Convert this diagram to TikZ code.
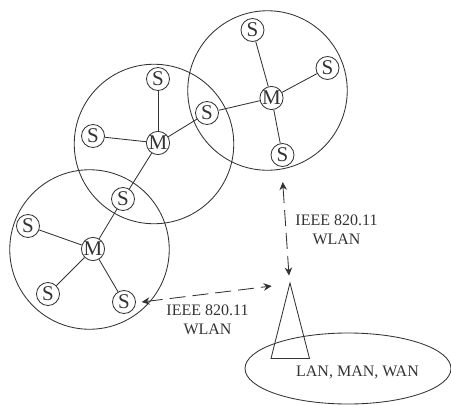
\documentclass[tikz,border=0pt]{standalone}
\usepackage{fontspec}
\setmainfont{Liberation Serif}
\usetikzlibrary{arrows.meta,shapes.geometric}
\definecolor{ink}{gray}{0.2}
\tikzset{
  px/.style={x=1pt,y=-1pt},
  ln/.style={draw=ink,line width=0.85pt},
  cell/.style={circle,ln,minimum size=159.5pt,inner sep=0pt},
  stn/.style={circle,ln,minimum size=23pt,inner sep=0pt,font=\fontsize{21}{21}\selectfont,text=ink},
  lab/.style={align=center,inner sep=0pt,font=\fontsize{16}{19}\selectfont,text=ink},
  wl/.style={ln,dash pattern=on 16pt off 7pt,{Stealth[length=8pt,width=7.5pt]}-{Stealth[length=8pt,width=7.5pt]}}
}
\begin{document}
\begin{tikzpicture}[px]
\useasboundingbox (0,0) rectangle (451,405);
% coverage cells
\node[cell] (c2) at (154,144) {};
\node[cell] (c3) at (267.5,90.5) {};
\node[cell] (c1) at (89.5,249.5) {};
% stations
\node[stn] (m2) at (158,143) {M};
\node[stn] (a1) at (158,79) {S};
\node[stn] (a2) at (93,136) {S};
\node[stn] (a3) at (207,113) {S};
\node[stn] (a4) at (123,199) {S};
\node[stn] (m3) at (271.5,98) {M};
\node[stn] (b1) at (252.5,30) {S};
\node[stn] (b2) at (327.5,68) {S};
\node[stn] (b3) at (282.5,155) {S};
\node[stn] (m1) at (93,249) {M};
\node[stn] (d1) at (28,226) {S};
\node[stn] (d2) at (48,294) {S};
\node[stn] (d3) at (124,302) {S};
\foreach \u/\v in {m2/a1,m2/a2,m2/a3,m2/a4,m3/a3,m3/b1,m3/b2,m3/b3,m1/a4,m1/d1,m1/d2,m1/d3}
  \draw[ln] (\u) -- (\v);
% access point and wired network
\node[ellipse,ln,minimum width=206pt,minimum height=71pt,inner sep=0pt] (net) at (348,368.5) {};
\coordinate (apT) at (290,283);
\coordinate (apL) at (271,358.5);
\coordinate (apR) at (309.5,358.5);
\draw[ln,line join=miter] (apT) -- (apL) -- (apR) -- cycle;
% wireless links
\coordinate (t1) at (282.7,182);
\coordinate (t2) at (289,275.5);
\coordinate (t3) at (141.7,302);
\coordinate (t4) at (271.7,286);
\draw[wl] (t1) -- (t2);
\draw[wl] (t3) -- (t4);
% labels
\node[lab] (l1) at (336.5,229.5) {IEEE 820.11\\WLAN};
\node[lab] (l2) at (207.5,319.5) {IEEE 820.11\\WLAN};
\node[lab] (l3) at (357.5,372.5) {LAN, MAN, WAN};
\end{tikzpicture}
\end{document}
